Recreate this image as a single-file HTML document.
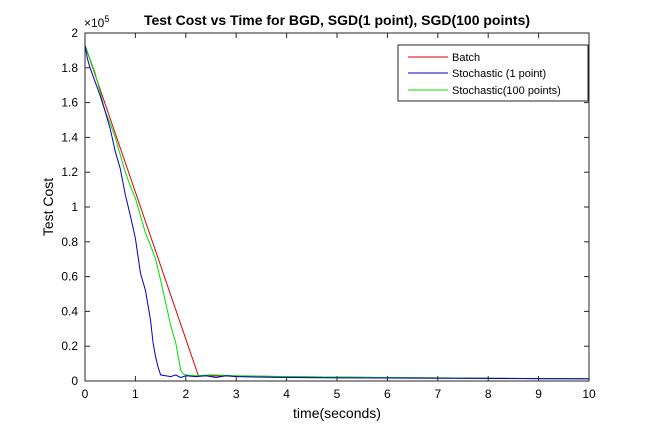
<!DOCTYPE html>
<html><head><meta charset="utf-8"><style>
body{margin:0;background:#fff;}
svg text{font-family:"Liberation Sans",Arial,sans-serif;}
</style></head><body>
<svg width="651" height="427" viewBox="0 0 651 427" id="c">
<rect width="651" height="427" fill="#fff"/>
<text x="337" y="25" text-anchor="middle" font-size="14" font-weight="bold">Test Cost vs Time for BGD, SGD(1 point), SGD(100 points)</text>
<text x="337" y="418" text-anchor="middle" font-size="14">time(seconds)</text>
<text transform="translate(53,207) rotate(-90)" text-anchor="middle" font-size="14">Test Cost</text>
<text x="84" y="27" font-size="12">×10<tspan dy="-5" font-size="9">5</tspan></text>
<g id="ticks"></g>
<g id="series"></g>
<rect x="85" y="33" width="504" height="348" fill="none" stroke="#262626" stroke-width="1"/>
<g>
<rect x="398" y="45" width="190" height="56" fill="#fff" stroke="#262626"/>
<g><line x1="408" y1="57" x2="448" y2="57" stroke="#e00000"/><text x="452" y="61" font-size="11">Batch</text></g>
<g><line x1="408" y1="73" x2="448" y2="73" stroke="#0000c0"/><text x="452" y="77" font-size="11">Stochastic (1 point)</text></g>
<g><line x1="408" y1="90" x2="448" y2="90" stroke="#00e000"/><text x="452" y="94" font-size="11">Stochastic(100 points)</text></g>
</g>
</svg>
<script>
const xTicks=[0,1,2,3,4,5,6,7,8,9,10];
const yTicks=[0,0.2,0.4,0.6,0.8,1,1.2,1.4,1.6,1.8,2];
const yTickLabels=["0","0.2","0.4","0.6","0.8","1","1.2","1.4","1.6","1.8","2"];
const batchT=[0,2.25,3,4,5,6,7,8,9,10];
const batchV=[1.93,0.03,0.028,0.025,0.022,0.02,0.018,0.016,0.014,0.012];
const sgd1T=[0,0.05,0.1,0.2,0.3,0.4,0.5,0.6,0.7,0.8,0.9,1.0,1.05,1.1,1.2,1.3,1.35,1.4,1.45,1.5,1.6,1.7,1.8,1.9,2.0,2.2,2.4,2.6,2.8,3,3.5,4,5,6,7,8,9,10];
const sgd1V=[1.93,1.85,1.8,1.72,1.64,1.55,1.45,1.32,1.22,1.07,0.95,0.82,0.72,0.62,0.52,0.35,0.22,0.14,0.08,0.035,0.03,0.025,0.035,0.02,0.03,0.025,0.03,0.02,0.03,0.025,0.022,0.02,0.018,0.017,0.016,0.015,0.014,0.013];
const sgd100T=[0,0.1,0.2,0.3,0.4,0.5,0.6,0.7,0.8,0.9,1.0,1.1,1.2,1.3,1.4,1.5,1.6,1.7,1.8,1.85,1.9,1.95,2.0,2.2,2.5,3,3.5,4,5,6,7,8,9,10];
const sgd100V=[1.93,1.85,1.77,1.66,1.55,1.48,1.4,1.3,1.2,1.12,1.05,0.95,0.85,0.78,0.7,0.58,0.45,0.32,0.22,0.14,0.06,0.04,0.035,0.03,0.035,0.03,0.028,0.025,0.022,0.02,0.018,0.016,0.014,0.012];
const X=t=>85+t*50.4, Y=v=>381-v*174;
const NS="http://www.w3.org/2000/svg";
const tg=document.getElementById('ticks'), sg=document.getElementById('series');
function mk(n,a,p){const e=document.createElementNS(NS,n);for(const k in a)e.setAttribute(k,a[k]);p.appendChild(e);return e;}
xTicks.forEach(t=>{
 const l=mk('line',{x1:X(t),x2:X(t),y1:381,y2:376,stroke:'#262626'},tg);
 
 
 const l2=mk('line',{x1:X(t),x2:X(t),y1:33,y2:38,stroke:'#262626'},tg);
 
 
 const tx=mk('text',{x:X(t),y:398,'text-anchor':'middle','font-size':12},tg);tx.textContent=t;
 
 
});
yTicks.forEach((v,i)=>{
 const l=mk('line',{x1:85,x2:90,y1:Y(v),y2:Y(v),stroke:'#262626'},tg);
 
 
 const l2=mk('line',{x1:584,x2:589,y1:Y(v),y2:Y(v),stroke:'#262626'},tg);
 
 
 const tx=mk('text',{x:78,y:Y(v)+4,'text-anchor':'end','font-size':12},tg);tx.textContent=yTickLabels[i];
 
 
});
function line(T,V,c,name){
 const p=mk('polyline',{points:T.map((t,i)=>X(t)+','+Y(V[i])).join(' '),fill:'none',stroke:c,'stroke-width':1},sg);
 
 
}
line(batchT,batchV,'#e00000','batch-line');
line(sgd100T,sgd100V,'#00e000','sgd100-line');
line(sgd1T,sgd1V,'#0000c0','sgd1-line');
</script>
</body></html>
